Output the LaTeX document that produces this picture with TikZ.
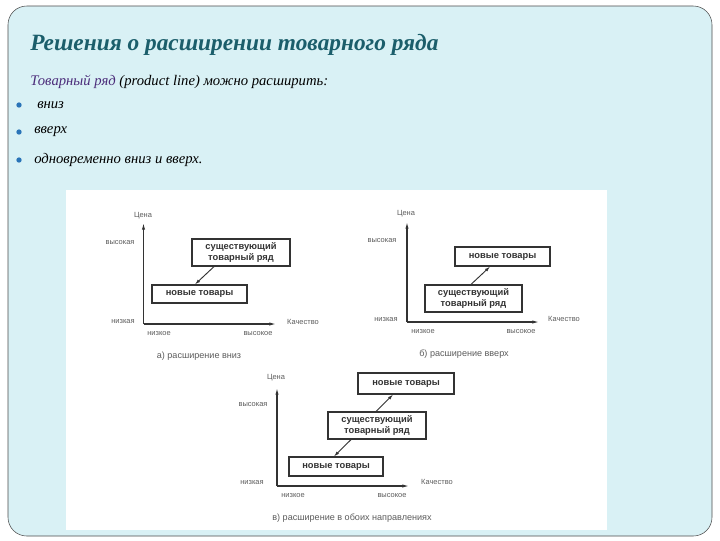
\documentclass[tikz,border=0pt]{standalone}
\usepackage{fontspec}
\setmainfont{Liberation Serif}
\newfontfamily\dsans{Liberation Sans}
\usetikzlibrary{arrows.meta}
\definecolor{bgc}{HTML}{D9F1F5}
\definecolor{titlec}{HTML}{1B5E6B}
\definecolor{purp}{HTML}{4B2C7A}
\definecolor{bul}{HTML}{2A74B8}
\definecolor{ink}{HTML}{333333}
\tikzset{
  prod/.style={draw=ink,line width=0.9pt,fill=white,font=\dsans\bfseries\fontsize{7}{7.6}\selectfont,text=ink,align=center,inner sep=0pt},
  lbl/.style={font=\dsans\fontsize{5.6}{6}\selectfont,text=ink!80,inner sep=0pt},
  captxt/.style={font=\dsans\fontsize{6.8}{7}\selectfont,text=ink!80,inner sep=0pt},
  axis/.style={draw=ink,line width=0.8pt,-{Latex[length=5pt,width=2.5pt]}},
  ext/.style={draw=ink,line width=0.7pt,-{Latex[length=4pt,width=2.5pt]}},
  btxt/.style={anchor=west,font=\itshape\fontsize{11}{13}\selectfont,inner sep=0pt},
  dot/.style={circle,fill=bul,inner sep=0pt,minimum size=4pt}
}
\begin{document}
\begin{tikzpicture}[x=0.75pt,y=-0.75pt]
\useasboundingbox (0,0) rectangle (720,540);
\fill[white] (0,0) rectangle (720,540);
\filldraw[fill=bgc,draw=black!70,rounded corners=14pt] (8,6) rectangle (712,536);
\fill[white] (66,190) rectangle (607,530);
\node[anchor=west,font=\bfseries\itshape\fontsize{17.5}{20}\selectfont,text=titlec,inner sep=0pt] (title) at (30,45) {Решения о расширении товарного ряда};
\node[btxt] (sub) at (30,82) {\textcolor{purp}{Товарный ряд} (product line) можно расширить:};
\node[dot] (d1) at (19,105) {}; \node[btxt] (b1) at (37,105) {вниз};
\node[dot] (d2) at (19,132) {}; \node[btxt] (b2) at (34,132) {вверх};
\node[dot] (d3) at (19,160) {}; \node[btxt] (b3) at (34,160) {одновременно вниз и вверх.};
% a
\coordinate (oa) at (143.5,324); \coordinate (ya) at (143.5,223); \coordinate (xa) at (276,324);
\draw[axis] (oa) -- (ya); \draw[axis] (oa) -- (xa);
\node[lbl] (ca) at (143,216) {Цена};
\node[lbl] (ha) at (120,243) {высокая};
\node[lbl] (la) at (123,322) {низкая};
\node[lbl] (qa) at (303,322) {Качество};
\node[lbl] (lqa) at (159,334) {низкое};
\node[lbl] (hqa) at (258,334) {высокое};
\node[captxt] (capa) at (199,356) {а) расширение вниз};
\node[prod,minimum width=98*0.75pt,minimum height=27*0.75pt] (ea) at (241,252.5) {существующий\\товарный ряд};
\node[prod,minimum width=95*0.75pt,minimum height=18*0.75pt] (na) at (199.5,294) {новые товары\vphantom{y}};
\draw[ext] ([xshift=-27*0.75pt]ea.south) -- ([xshift=-4.5*0.75pt]na.north);
% b
\coordinate (ob) at (407,322); \coordinate (yb) at (407,222); \coordinate (xb) at (539,322);
\draw[axis] (ob) -- (yb); \draw[axis] (ob) -- (xb);
\node[lbl] (cb) at (406,214) {Цена};
\node[lbl] (hb) at (382,241) {высокая};
\node[lbl] (lb) at (386,320) {низкая};
\node[lbl] (qb) at (564,319) {Качество};
\node[lbl] (lqb) at (423,332) {низкое};
\node[lbl] (hqb) at (521,332) {высокое};
\node[captxt] (capb) at (464,354) {б) расширение вверх};
\node[prod,minimum width=95*0.75pt,minimum height=19*0.75pt] (nb) at (502.5,256.5) {новые товары\vphantom{y}};
\node[prod,minimum width=97*0.75pt,minimum height=27*0.75pt] (eb) at (473.5,298.5) {существующий\\товарный ряд};
\draw[ext] ([xshift=-2.5*0.75pt]eb.north) -- ([xshift=-12.5*0.75pt]nb.south);
% c
\coordinate (oc) at (277,486); \coordinate (yc) at (277,388); \coordinate (xc) at (409,486);
\draw[axis] (oc) -- (yc); \draw[axis] (oc) -- (xc);
\node[lbl] (cc) at (276,378) {Цена};
\node[lbl] (hc) at (253,405) {высокая};
\node[lbl] (lc) at (252,483) {низкая};
\node[lbl] (qc) at (437,482) {Качество};
\node[lbl] (lqc) at (293,496) {низкое};
\node[lbl] (hqc) at (392,496) {высокое};
\node[captxt] (capc) at (352,518) {в) расширение в обоих направлениях};
\node[prod,minimum width=96*0.75pt,minimum height=21*0.75pt] (ntc) at (406,383.5) {новые товары\vphantom{y}};
\node[prod,minimum width=98*0.75pt,minimum height=27*0.75pt] (ec) at (377,425.5) {существующий\\товарный ряд};
\node[prod,minimum width=94*0.75pt,minimum height=19*0.75pt] (nbc) at (336,466.5) {новые товары\vphantom{y}};
\draw[ext] ([xshift=-1*0.75pt]ec.north) -- ([xshift=-13*0.75pt]ntc.south);
\draw[ext] ([xshift=-26*0.75pt]ec.south) -- ([xshift=-2*0.75pt]nbc.north);
\end{tikzpicture}
\end{document}
